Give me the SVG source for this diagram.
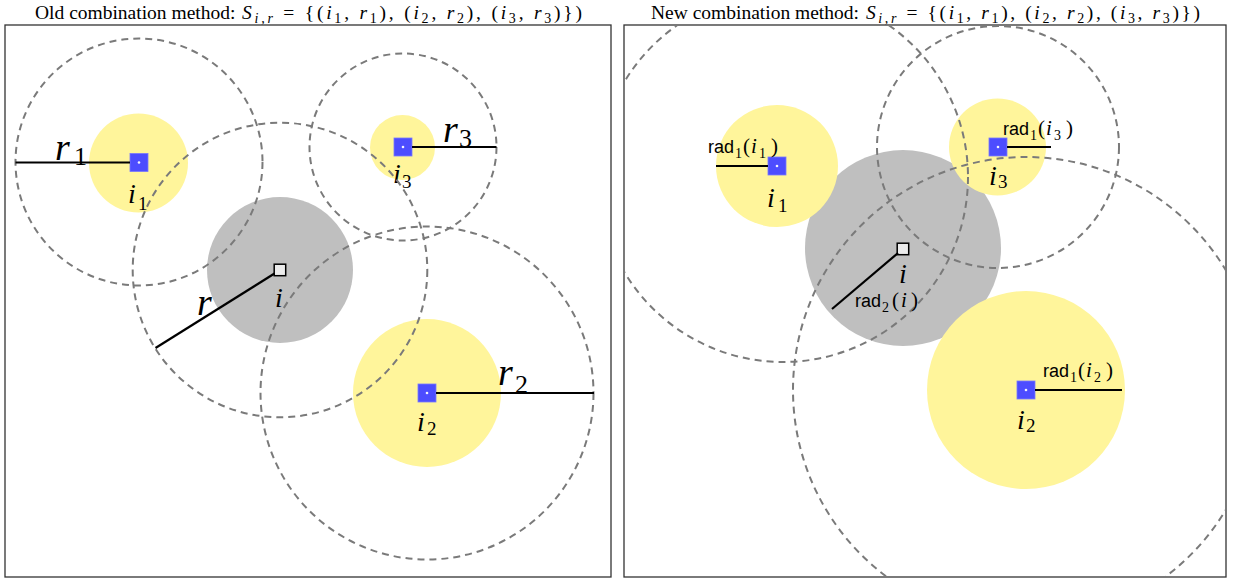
<svg xmlns="http://www.w3.org/2000/svg" width="1233" height="582" viewBox="0 0 1233 582">
<style>
.frame{fill:none;stroke:#333;stroke-width:1.3}
.title{font-family:"Liberation Serif",serif;font-size:19.5px;fill:#000}
.it{font-style:italic}
.yel{fill:#fff59b}
.gry{fill:#bfbfbf}
.rng{fill:none;stroke:#7a7a7a;stroke-width:2;stroke-dasharray:7 5}
.rad{stroke:#000;stroke-width:2.2;fill:none}
.sq{fill:#4d4dff;stroke:#7878ff;stroke-width:0.8}
.dot{fill:#f4f4ff}
.ctr{fill:#ececec;stroke:#000;stroke-width:1.5}
.lbl{font-family:"Liberation Serif",serif;font-style:italic;font-size:28px;fill:#000}
.sub{font-style:normal;font-size:19px}
.rl{font-family:"Liberation Serif",serif;font-style:italic;font-size:38px;fill:#000}
.rsub{font-style:normal;font-size:26px}
.rlab{font-family:"Liberation Serif",serif;font-size:21px;fill:#000}
.sans{font-family:"Liberation Sans",sans-serif;font-size:18px}
.s13{font-size:14px}
.s14{font-size:14px}
</style>
<defs>
<clipPath id="clipL"><rect x="5" y="25" width="606" height="552"/></clipPath>
<clipPath id="clipR"><rect x="624" y="25" width="602" height="552"/></clipPath>
</defs>

<!-- titles -->
<text class="title" x="35" y="19">Old combination method:</text>
<text class="title" x="242" y="19" textLength="340" lengthAdjust="spacing"><tspan class="it">S</tspan><tspan class="it s14" dy="4">i,r</tspan><tspan dy="-4"> = {(</tspan><tspan class="it">i</tspan><tspan class="s14" dy="4">1</tspan><tspan dy="-4">, </tspan><tspan class="it">r</tspan><tspan class="s14" dy="4">1</tspan><tspan dy="-4">), (</tspan><tspan class="it">i</tspan><tspan class="s14" dy="4">2</tspan><tspan dy="-4">, </tspan><tspan class="it">r</tspan><tspan class="s14" dy="4">2</tspan><tspan dy="-4">), (</tspan><tspan class="it">i</tspan><tspan class="s14" dy="4">3</tspan><tspan dy="-4">, </tspan><tspan class="it">r</tspan><tspan class="s14" dy="4">3</tspan><tspan dy="-4">)})</tspan></text>
<text class="title" x="651" y="19">New combination method:</text>
<text class="title" x="866" y="19" textLength="334" lengthAdjust="spacing"><tspan class="it">S</tspan><tspan class="it s14" dy="4">i,r</tspan><tspan dy="-4"> = {(</tspan><tspan class="it">i</tspan><tspan class="s14" dy="4">1</tspan><tspan dy="-4">, </tspan><tspan class="it">r</tspan><tspan class="s14" dy="4">1</tspan><tspan dy="-4">), (</tspan><tspan class="it">i</tspan><tspan class="s14" dy="4">2</tspan><tspan dy="-4">, </tspan><tspan class="it">r</tspan><tspan class="s14" dy="4">2</tspan><tspan dy="-4">), (</tspan><tspan class="it">i</tspan><tspan class="s14" dy="4">3</tspan><tspan dy="-4">, </tspan><tspan class="it">r</tspan><tspan class="s14" dy="4">3</tspan><tspan dy="-4">)})</tspan></text>

<!-- frames -->
<rect class="frame" x="5" y="25" width="606" height="552"/>
<rect class="frame" x="624" y="25" width="602" height="552"/>

<!-- LEFT PANEL NODES -->
<g id="L-i">
<circle class="gry" cx="280" cy="270" r="73"/>
<rect class="ctr" x="274.2" y="264.2" width="11.5" height="11.5"/>
<text class="lbl" x="275" y="307">i</text>
</g>
<g id="L-i1">
<circle class="yel" cx="138.5" cy="163" r="49.5"/>
<rect class="sq" x="130" y="153.5" width="18" height="18"/>
<circle class="dot" cx="139" cy="162.5" r="1.3"/>
<text class="lbl" x="128" y="203">i<tspan class="sub" x="138" y="210">1</tspan></text>
</g>
<g id="L-i3">
<circle class="yel" cx="402.5" cy="147.5" r="32.5"/>
<rect class="sq" x="394" y="138" width="18" height="18"/>
<circle class="dot" cx="403" cy="147" r="1.3"/>
<text class="lbl" x="393" y="183">i<tspan class="sub" x="402" y="188">3</tspan></text>
</g>
<g id="L-i2">
<circle class="yel" cx="427" cy="393" r="74"/>
<rect class="sq" x="418" y="384" width="18" height="18"/>
<circle class="dot" cx="427" cy="393" r="1.3"/>
<text class="lbl" x="417" y="431">i<tspan class="sub" x="427" y="435">2</tspan></text>
</g>

<!-- RIGHT PANEL NODES -->
<g id="R-i">
<circle class="gry" cx="903" cy="248" r="98"/>
<rect class="ctr" x="897.2" y="243.2" width="11.5" height="11.5"/>
<text class="lbl" x="899" y="283">i</text>
</g>
<g id="R-i1">
<circle class="yel" cx="777" cy="166" r="61"/>
<rect class="sq" x="768" y="157" width="18" height="18"/>
<circle class="dot" cx="777" cy="166" r="1.3"/>
<text class="lbl" x="767" y="207">i<tspan class="sub" x="778" y="212">1</tspan></text>
</g>
<g id="R-i3">
<circle class="yel" cx="997.5" cy="147" r="48.5"/>
<rect class="sq" x="989" y="138" width="18" height="18"/>
<circle class="dot" cx="998" cy="147" r="1.3"/>
<text class="lbl" x="989" y="185">i<tspan class="sub" x="998" y="188">3</tspan></text>
</g>
<g id="R-i2">
<circle class="yel" cx="1026" cy="390" r="99"/>
<rect class="sq" x="1017" y="381" width="18" height="18"/>
<circle class="dot" cx="1026" cy="390" r="1.3"/>
<text class="lbl" x="1017" y="429">i<tspan class="sub" x="1026" y="432">2</tspan></text>
</g>

<!-- CONNECTORS: ranges and radii -->
<g id="connectors">
<g clip-path="url(#clipL)">
<circle class="rng" cx="139" cy="162" r="123.5"/>
<circle class="rng" cx="403" cy="147" r="93.5"/>
<circle class="rng" cx="280" cy="270" r="147.3"/>
<circle class="rng" cx="427" cy="393" r="166.5"/>
</g>
<line class="rad" x1="15.5" y1="162.5" x2="130" y2="162.5"/>
<line class="rad" x1="412" y1="147" x2="496.5" y2="147"/>
<line class="rad" x1="274.5" y1="273.5" x2="155.5" y2="348"/>
<line class="rad" x1="436" y1="393" x2="594" y2="393"/>
<text class="rl" x="55" y="160">r<tspan class="rsub" x="74" y="165">1</tspan></text>
<text class="rl" x="443" y="142">r<tspan class="rsub" x="459" y="147">3</tspan></text>
<text class="rl" x="197" y="315">r</text>
<text class="rl" x="498" y="385">r<tspan class="rsub" x="515" y="393">2</tspan></text>

<g clip-path="url(#clipR)">
<circle class="rng" cx="783" cy="177" r="185"/>
<circle class="rng" cx="1026" cy="390" r="233"/>
<circle class="rng" cx="998" cy="147" r="121"/>
</g>
<line class="rad" x1="716" y1="166" x2="768" y2="166"/>
<line class="rad" x1="1007" y1="147" x2="1051" y2="147"/>
<line class="rad" x1="1035" y1="390" x2="1122" y2="390"/>
<line class="rad" x1="898" y1="253" x2="832" y2="309"/>
<text class="rlab" y="153"><tspan class="sans" x="708">rad</tspan><tspan class="s13" x="735" y="158">1</tspan><tspan x="743" y="153">(</tspan><tspan class="it" x="751">i</tspan><tspan class="s13" x="759" y="158">1</tspan><tspan x="771" y="153">)</tspan></text>
<text class="rlab" y="135"><tspan class="sans" x="1003">rad</tspan><tspan class="s13" x="1030" y="140">1</tspan><tspan x="1038" y="135">(</tspan><tspan class="it" x="1046">i</tspan><tspan class="s13" x="1054" y="140">3</tspan><tspan x="1066" y="135">)</tspan></text>
<text class="rlab" y="307"><tspan class="sans" x="855">rad</tspan><tspan class="s13" x="882" y="312">2</tspan><tspan x="892" y="307">(</tspan><tspan class="it" x="901">i</tspan><tspan x="911">)</tspan></text>
<text class="rlab" y="377"><tspan class="sans" x="1043">rad</tspan><tspan class="s13" x="1070" y="382">1</tspan><tspan x="1078" y="377">(</tspan><tspan class="it" x="1086">i</tspan><tspan class="s13" x="1094" y="382">2</tspan><tspan x="1106" y="377">)</tspan></text>
</g>
</svg>
